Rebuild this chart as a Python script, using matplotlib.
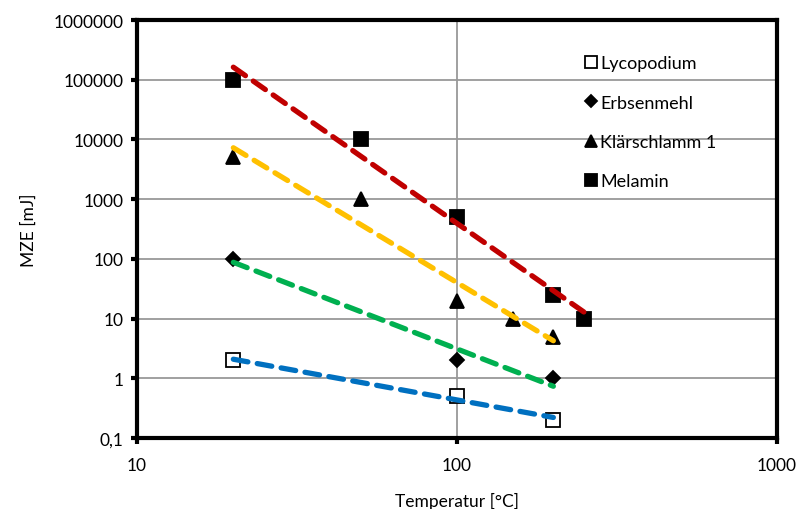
import numpy as np
import matplotlib
matplotlib.use('Agg')
import matplotlib.pyplot as plt
from matplotlib.ticker import FixedLocator, FuncFormatter, NullLocator

plt.rcParams['font.family'] = ['Lato', 'DejaVu Sans']

# data
lyco_x = [20, 100, 200]
lyco_y = [2, 0.5, 0.2]
erbs_x = [20, 100, 200]
erbs_y = [100, 2, 1]
klar_x = [20, 50, 100, 150, 200]
klar_y = [5000, 1000, 20, 10, 5]
mela_x = [20, 50, 100, 200, 250]
mela_y = [100000, 10000, 500, 25, 10]

names = ['Lycopodium', 'Erbsenmehl', 'Klärschlamm 1', 'Melamin']
series = [(lyco_x, lyco_y), (erbs_x, erbs_y), (klar_x, klar_y), (mela_x, mela_y)]
markers = ['s', 'D', '^', 's']
msizes = [10, 7.5, 10, 10]
faces = ['white', 'black', 'black', 'black']
trend_colors = ['#0070C0', '#00B050', '#FFC000', '#C00000']

fig = plt.figure(figsize=(7.98, 5.1), dpi=100)
ax = fig.add_axes([0.1717, 0.1392, 0.802, 0.8196])
ax.set_xscale('log')
ax.set_yscale('log')
ax.set_xlim(10, 1000)
ax.set_ylim(0.1, 1e6)

for (x, y), name, m, ms, fc in zip(series, names, markers, msizes, faces):
    ax.plot(x, y, linestyle='none', marker=m, markersize=ms, markerfacecolor=fc,
            markeredgecolor='black', markeredgewidth=1.3, label=name, zorder=3)

# power law trend lines
for (x, y), c in zip(series, trend_colors):
    lx = np.log10(x)
    k, d = np.polyfit(lx, np.log10(y), 1)
    xs = np.logspace(lx.min(), lx.max(), 50)
    ax.plot(xs, 10 ** (d + k * np.log10(xs)), color=c, lw=3.8,
            dashes=(2.8, 1.8), dash_capstyle='round', zorder=4)

ax.yaxis.set_major_locator(FixedLocator([0.1, 1, 10, 100, 1000, 1e4, 1e5, 1e6]))
ax.xaxis.set_major_locator(FixedLocator([10, 100, 1000]))
ax.xaxis.set_minor_locator(NullLocator())
ax.yaxis.set_minor_locator(NullLocator())
fmt = FuncFormatter(lambda v, p: ('%g' % v).replace('.', ',') if v < 1 else '%d' % round(v))
ax.yaxis.set_major_formatter(fmt)
ax.xaxis.set_major_formatter(fmt)

ax.grid(True, color='#999999', lw=1.3)
ax.set_axisbelow(True)
for s in ax.spines.values():
    s.set_linewidth(3)
    s.set_color('black')
ax.tick_params(length=4, width=3, labelsize=12.5, pad=6)
ax.tick_params(axis='x', pad=10)

ax.set_xlabel('Temperatur [°C]', fontsize=12.5, labelpad=13)
ax.set_ylabel('MZE [mJ]', fontsize=12.5, labelpad=12)

ax.legend(loc='upper left', bbox_to_anchor=(0.67, 0.955), frameon=False, fontsize=13,
          handletextpad=0.0, handlelength=1.0, labelspacing=1.3, markerscale=0.8)

fig.savefig('out.png', dpi=100)
